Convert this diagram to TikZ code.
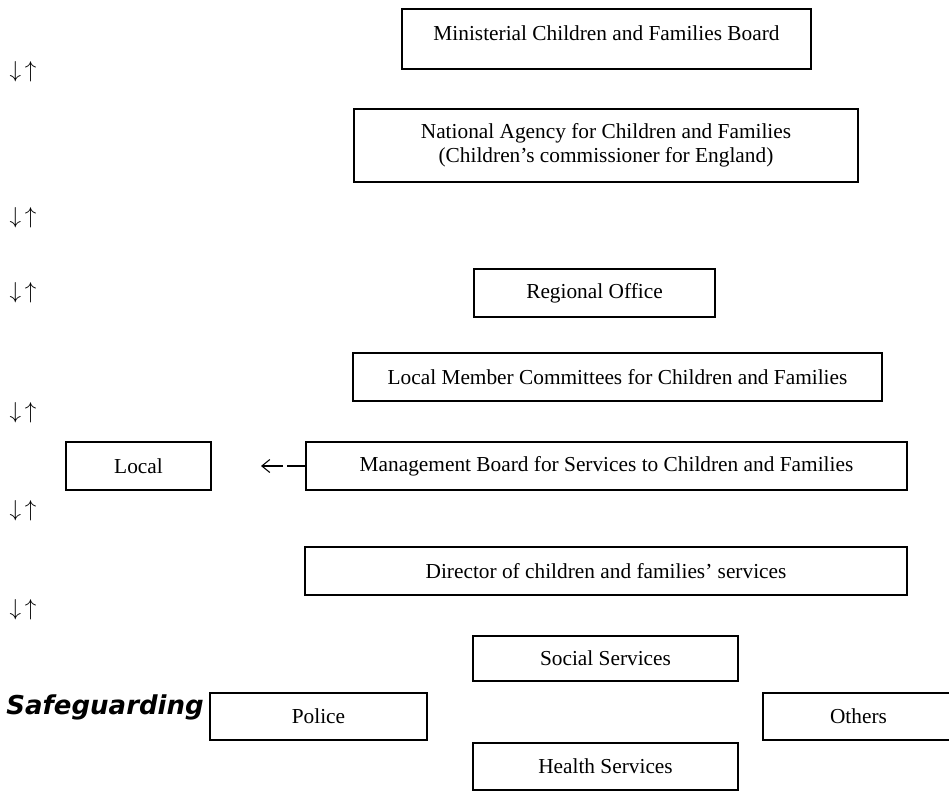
\documentclass[tikz,border=0pt]{standalone}
\usepackage{fontspec}
\setmainfont{Liberation Serif}
\newfontfamily\safefont{DejaVu Sans}
\usetikzlibrary{arrows.meta}
\newlength\px
\setlength\px{0.75pt}

\tikzset{
  orgbox/.style={draw, line width=1.2pt, inner sep=0pt, align=center,
    font=\fontsize{16}{18}\selectfont},
  updown/.style={inner sep=0pt, font=\fontsize{18}{20}\selectfont},
  sideline/.style={-{Straight Barb[length=6pt, width=9.75pt]}, line width=0.8pt,
    dash pattern=on 13.5pt off 3pt on 30pt off 3pt},
}

\begin{document}
\begin{tikzpicture}[x=0.75pt,y=-0.75pt]
\useasboundingbox (0,0) rectangle (949,790);

% national level
\node[orgbox, minimum width=409\px, text height=31\px, text depth=29\px] (mcfb) at (606.5,39)
  {Ministerial Children and Families Board};
\node[orgbox, minimum width=504\px, minimum height=73\px] (nacf) at (606,145.5)
  {National Agency for Children and Families\\(Children's commissioner for England)};
\node[orgbox, minimum width=241\px, minimum height=48\px] (ro) at (594.5,293) {Regional Office};

% local level
\node[orgbox, minimum width=529\px, minimum height=48\px] (lmc) at (617.5,377)
  {Local Member Committees for Children and Families};
\node[orgbox, minimum width=145\px, minimum height=48\px] (local) at (138.5,466) {Local};
\node[orgbox, minimum width=601\px, minimum height=48\px] (mbsc) at (606.5,466)
  {Management Board for Services to Children and Families};
\node[orgbox, minimum width=602\px, minimum height=48\px] (dcfs) at (606,571)
  {Director of children and families' services};

% safeguarding
\node[orgbox, minimum width=265\px, minimum height=45\px] (ss) at (605.5,658.5) {Social Services};
\node[orgbox, minimum width=217\px, minimum height=47\px] (police) at (318.5,716.5) {Police};
\node[orgbox, minimum width=191\px, minimum height=47\px] (others) at (858.5,716.5) {Others};
\node[orgbox, minimum width=265\px, minimum height=47\px] (hs) at (605.5,766.5) {Health Services};
\node[anchor=base east, inner sep=0pt,
  font=\safefont\fontsize{19.5}{22}\selectfont\bfseries\itshape]
  (safe) at (204,714) {Safeguarding};

% up and down arrows
\foreach \yy [count=\i] in {72,218,293,413,511,610}
  \node[updown] (ud\i) at (23,\yy) {$\downarrow\,\uparrow$};

\coordinate (lp) at (261,466);
\draw[sideline] (mbsc.west) -- (lp);
\end{tikzpicture}
\end{document}
